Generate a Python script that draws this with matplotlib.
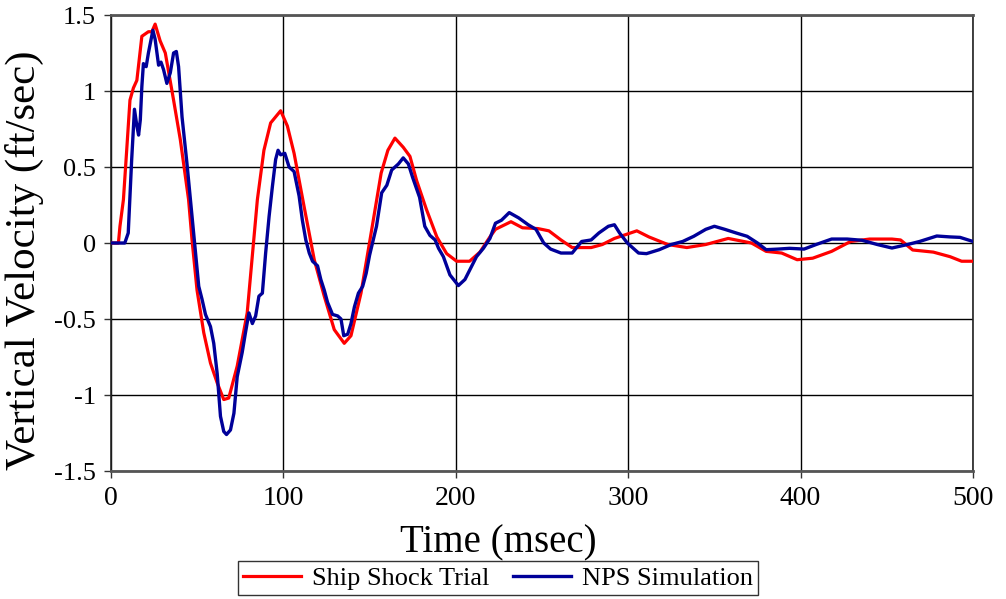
import matplotlib
matplotlib.use("Agg")
import matplotlib.pyplot as plt

# Ship Shock Trial (red)
trial_t = [0, 4.3, 5.2, 7.2, 9.1, 11, 13, 15, 17.9, 21.7, 23.7, 25.6, 28.5, 31.5, 36.3, 40.2,
           45, 47, 49.9, 53.8, 57.7, 61.6, 65.4, 68.3, 73.2, 79, 84.9, 88.7, 92.6, 98.4,
           102.3, 106.2, 112, 117.9, 123.7, 129.5, 135.3, 139.2, 145, 150.9, 156.7, 160.6,
           164.7, 169.5, 173.4, 177.3, 183, 189, 194.7, 200.5, 208, 214, 219.8, 223, 232,
           238.7, 247.6, 254, 261, 267.5, 278.5, 285, 292, 305, 312, 323, 334, 345, 358,
           371.5, 380, 389, 398, 407, 418, 429, 440, 453, 458, 465, 477, 486.7, 493.4, 500]
trial_v = [0, 0, 0.11, 0.285, 0.61, 0.94, 1.02, 1.07, 1.36, 1.39, 1.39, 1.44, 1.33, 1.25, 0.94,
           0.68, 0.285, 0.02, -0.31, -0.59, -0.79, -0.92, -1.03, -1.02, -0.81, -0.46, 0.285,
           0.61, 0.79, 0.87, 0.77, 0.59, 0.24, -0.11, -0.35, -0.57, -0.66, -0.61, -0.33,
           0.066, 0.46, 0.61, 0.69, 0.63, 0.57, 0.41, 0.22, 0.04, -0.07, -0.12, -0.12, -0.06,
           0.04, 0.09, 0.14, 0.10, 0.095, 0.08, 0.02, -0.03, -0.03, -0.01, 0.03, 0.08, 0.04,
           -0.01, -0.03, -0.01, 0.03, 0.0, -0.055, -0.066, -0.11, -0.10, -0.055, 0.01, 0.026,
           0.026, 0.02, -0.046, -0.06, -0.09, -0.12, -0.12]

# NPS Simulation (blue)
sim_t = [0, 8, 10, 12, 13.6, 15, 16, 17, 17.9, 18.8, 20.4, 21.7, 24.3, 25.6, 27.6, 29, 30.5,
         32.4, 34.4, 36.3, 37.9, 39.2, 41.2, 44, 47, 49, 50.9, 52.8, 54.8, 57.7, 59.6, 61.6,
         63.5, 65.4, 67, 69.3, 71.3, 73.2, 76.1, 78, 80, 82, 83.9, 85.8, 87.8, 89.7, 91.7,
         93.6, 95.5, 96.9, 98.4, 100.8, 103.3, 106.2, 109.1, 111, 113, 115, 116.9, 119.8,
         121.7, 123.7, 125.6, 128.5, 131.5, 133.4, 135, 137.3, 139.2, 141.2, 143.5, 146, 148,
         150, 154, 157, 160, 162.8, 166.7, 169.5, 172.5, 175, 179, 182, 185, 188, 190, 192.8,
         196.6, 201.5, 205.3, 208, 212, 216, 219.8, 223, 226.5, 231, 236.5, 242, 246.5, 251,
         255, 261, 267.5, 273, 278.5, 283, 288.5, 292, 295, 299.5, 306, 310.6, 318, 325,
         331.6, 338, 345, 350, 356, 362.6, 369, 375, 380, 387, 393.6, 402, 409, 418, 427,
         435.6, 444.5, 453, 462, 469, 479, 486.7, 492.5, 500]
sim_v = [0, 0, 0.066, 0.55, 0.88, 0.77, 0.71, 0.81, 1.03, 1.18, 1.16, 1.25, 1.40, 1.34, 1.17,
         1.19, 1.14, 1.05, 1.12, 1.25, 1.26, 1.16, 0.83, 0.53, 0.175, -0.066, -0.285, -0.37,
         -0.47, -0.55, -0.66, -0.86, -1.14, -1.24, -1.26, -1.23, -1.12, -0.88, -0.72, -0.59,
         -0.46, -0.53, -0.48, -0.35, -0.33, -0.066, 0.175, 0.37, 0.55, 0.61, 0.58, 0.59, 0.50,
         0.47, 0.31, 0.15, 0.02, -0.066, -0.12, -0.15, -0.24, -0.31, -0.39, -0.47, -0.48,
         -0.50, -0.61, -0.60, -0.53, -0.42, -0.33, -0.285, -0.20, -0.08, 0.11, 0.33, 0.38,
         0.48, 0.52, 0.56, 0.52, 0.43, 0.30, 0.11, 0.05, 0.02, -0.035, -0.09, -0.21, -0.28,
         -0.24, -0.18, -0.09, -0.035, 0.03, 0.13, 0.15, 0.20, 0.165, 0.12, 0.09, 0.0, -0.04,
         -0.066, -0.066, 0.01, 0.02, 0.066, 0.11, 0.12, 0.066, 0.0, -0.066, -0.07, -0.044,
         -0.01, 0.01, 0.044, 0.09, 0.11, 0.09, 0.066, 0.044, 0.0, -0.044, -0.04, -0.035,
         -0.04, -0.01, 0.026, 0.026, 0.018, -0.01, -0.033, -0.01, 0.01, 0.046, 0.04, 0.037,
         0.01]

x_ticks = [0, 100, 200, 300, 400, 500]
y_ticks = [-1.5, -1, -0.5, 0, 0.5, 1, 1.5]
y_tick_labels = ["-1.5", "-1", "-0.5", "0", "0.5", "1", "1.5"]
series_names = ["Ship Shock Trial", "NPS Simulation"]

serif = ["Liberation Serif", "DejaVu Serif"]
plt.rcParams["font.family"] = serif

fig = plt.figure(figsize=(10.06, 5.99), dpi=100)
ax = fig.add_axes([111 / 1006, 1 - 471 / 599, (973 - 111) / 1006, (471 - 15) / 599])

ax.plot(trial_t, trial_v, color="#FF0000", lw=2.3, label=series_names[0], zorder=3)
ax.plot(sim_t, sim_v, color="#000099", lw=2.4, label=series_names[1], zorder=4)

ax.set_xlim(0, 500)
ax.set_ylim(-1.5, 1.5)
ax.set_xticks(x_ticks)
ax.set_xticklabels([str(v) for v in x_ticks], fontsize=20)
ax.set_yticks(y_ticks)
ax.set_yticklabels(y_tick_labels, fontsize=19)
ax.grid(True, color="black", lw=1.0)
ax.set_axisbelow(True)
ax.tick_params(direction="out", length=5, width=1, color="#333333", pad=6)

for side in ["left", "right"]:
    ax.spines[side].set_color("#222222")
    ax.spines[side].set_linewidth(1.2)
for side in ["top", "bottom"]:
    ax.spines[side].set_color("#555555")
    ax.spines[side].set_linewidth(2.0)

ax.set_xlabel("Time (msec)", fontsize=28)
ax.xaxis.set_label_coords(0.449, -0.118)
ax.set_ylabel("Vertical Velocity (ft/sec)", fontsize=31)
ax.yaxis.set_label_coords(-0.078, 0.463)

leg = fig.legend(loc="lower center", bbox_to_anchor=(0.495, 0.0), ncol=2, fontsize=19,
                 frameon=True, fancybox=False, edgecolor="black", handlelength=2.2,
                 columnspacing=0.9, handletextpad=0.4, borderpad=0.2, borderaxespad=0.15)
leg.get_frame().set_linewidth(1.0)

fig.savefig("out.png", dpi=100)
